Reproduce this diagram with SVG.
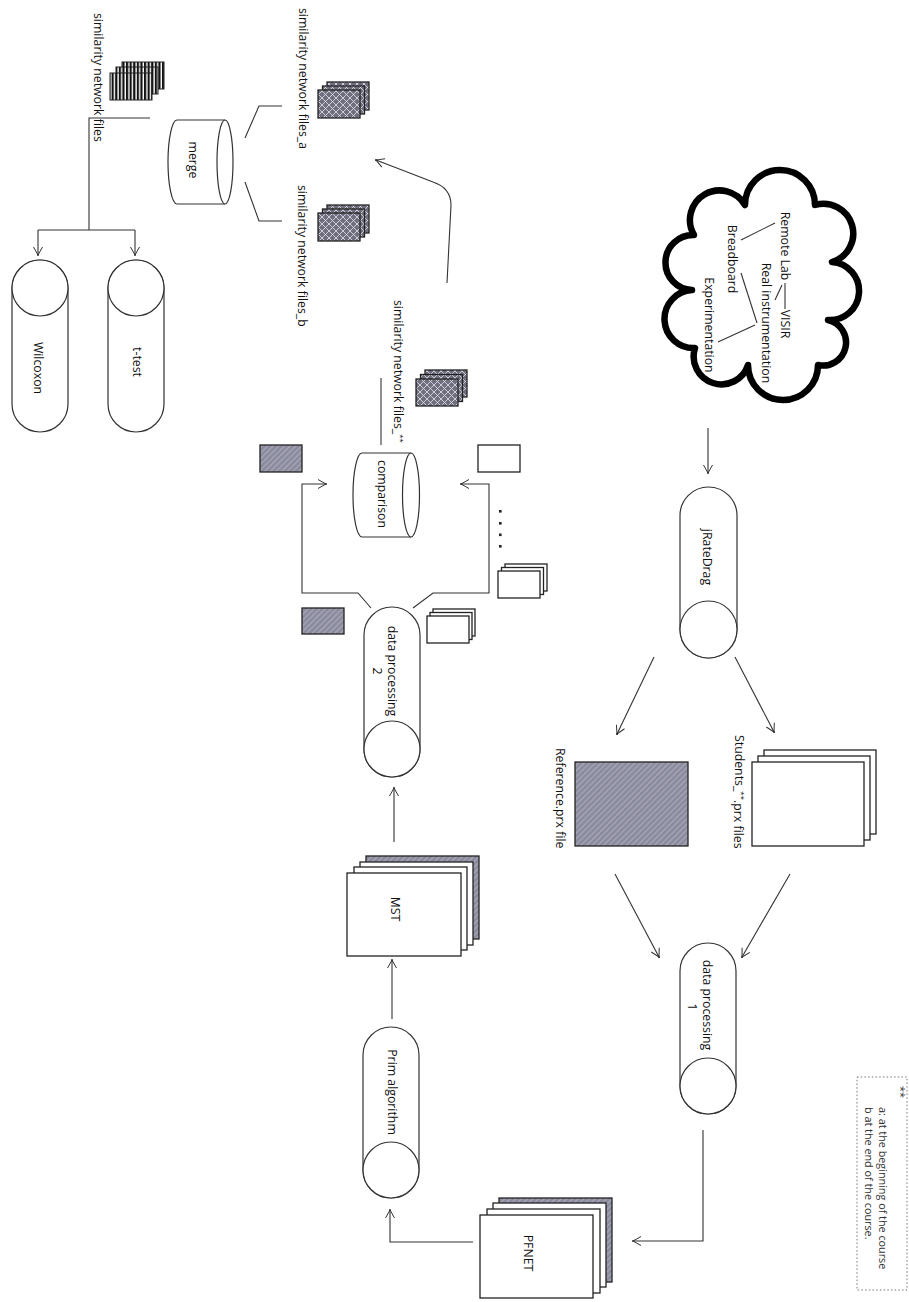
<svg xmlns="http://www.w3.org/2000/svg" width="909" height="1302" viewBox="0 0 909 1302">
<style>
.t{font-family:"Open Sans","Liberation Sans",sans-serif;font-size:12.3px;fill:#111}
.lg{font-family:"Open Sans","Liberation Sans",sans-serif;font-size:10.8px;fill:#333}
.ln{fill:none;stroke:#333;stroke-width:1.1}
.cy{fill:#fff;stroke:#333;stroke-width:1.2}
.wf{fill:#fff;stroke:#222;stroke-width:1.3}
.hf{fill:url(#hatch);stroke:#222;stroke-width:1.3}
.lf{fill:url(#lattice);stroke:#222;stroke-width:1.3}
.sf{fill:url(#stripe);stroke:#222;stroke-width:1}
</style>
<defs>
<pattern id="hatch" patternUnits="userSpaceOnUse" width="4" height="4" patternTransform="rotate(45)">
<rect width="4" height="4" fill="#8c8c9f"/>
<line x1="0" y1="0" x2="0" y2="4" stroke="#cacad6" stroke-width="1"/>
</pattern>
<pattern id="lattice" patternUnits="userSpaceOnUse" width="7" height="7">
<rect width="7" height="7" fill="#6f6f80"/>
<path d="M0,0 L7,7 M7,0 L0,7" stroke="#e4e4ec" stroke-width="0.8"/>
</pattern>
<pattern id="stripe" patternUnits="userSpaceOnUse" width="3.6" height="10">
<rect width="3.6" height="10" fill="#fff"/>
<rect width="2.2" height="10" fill="#111"/>
</pattern>
<marker id="ah" viewBox="-10 -6 12 12" refX="0" refY="0" markerWidth="12" markerHeight="12" markerUnits="userSpaceOnUse" orient="auto">
<path d="M-8,-4.5 L0,0 L-8,4.5" fill="none" stroke="#333" stroke-width="1"/>
<circle cx="0" cy="0" r="1" fill="#333"/>
</marker>
</defs>

<g id="connectors">
<line class="ln" x1="708" y1="428" x2="708" y2="473" marker-end="url(#ah)"/>
<line class="ln" x1="654" y1="657" x2="617" y2="734" marker-end="url(#ah)"/>
<line class="ln" x1="735" y1="657" x2="774" y2="732" marker-end="url(#ah)"/>
<line class="ln" x1="615" y1="874" x2="659" y2="957" marker-end="url(#ah)"/>
<line class="ln" x1="790" y1="874" x2="742" y2="957" marker-end="url(#ah)"/>
<polyline class="ln" points="703,1130 703,1241 633,1241" marker-end="url(#ah)"/>
<polyline class="ln" points="473,1242 390,1242 390,1210" marker-end="url(#ah)"/>
<line class="ln" x1="392" y1="1019" x2="392" y2="960" marker-end="url(#ah)"/>
<line class="ln" x1="394" y1="842" x2="394" y2="788" marker-end="url(#ah)"/>
<polyline class="ln" points="371,608 358,593 302,593 302,484 326,484" marker-end="url(#ah)"/>
<polyline class="ln" points="413,608 433,593 489,593 489,484 461,484" marker-end="url(#ah)"/>
<line class="ln" x1="381" y1="378" x2="381" y2="445"/>
<path class="ln" d="M447,283 L451,205 Q451,188 433,182 L376,160" marker-end="url(#ah)"/>
<polyline class="ln" points="245,138 259,106 282,106"/>
<polyline class="ln" points="245,182 259,221 282,221"/>
<polyline class="ln" points="150,118 89,118 89,230"/>
<line class="ln" x1="38" y1="230" x2="135" y2="230"/>
<line class="ln" x1="38" y1="230" x2="38" y2="255" marker-end="url(#ah)"/>
<line class="ln" x1="135" y1="230" x2="135" y2="255" marker-end="url(#ah)"/>
</g>

<g id="cloud">
<path d="M694,235 A1 1 0 0 1 745,205 A1 1 0 0 1 815,205 A1 1 0 0 1 832,262 A1 1 0 0 1 828,320 A1 1 0 0 1 818,365 A1 1 0 0 1 748,365 A1 1 0 0 1 695,348 A1 1 0 0 1 692,290 A1 1 0 0 1 694,235 Z" fill="#fff" stroke="#000" stroke-width="6.5" stroke-linejoin="round"/>
<line class="ln" x1="775" y1="223" x2="741" y2="240"/>
<line class="ln" x1="785" y1="283" x2="785" y2="309"/>
<line class="ln" x1="782" y1="285" x2="775" y2="300"/>
<line class="ln" x1="741" y1="273" x2="757" y2="323"/>
<line class="ln" x1="755" y1="325" x2="718" y2="342"/>
<text class="t" transform="translate(785,246) rotate(90)" text-anchor="middle" dominant-baseline="central">Remote Lab</text>
<text class="t" transform="translate(785,324) rotate(90)" text-anchor="middle" dominant-baseline="central">VISIR</text>
<text class="t" transform="translate(766,323) rotate(90)" text-anchor="middle" dominant-baseline="central">Real instrumentation</text>
<text class="t" transform="translate(732,259) rotate(90)" text-anchor="middle" dominant-baseline="central">Breadboard</text>
<text class="t" transform="translate(709,325) rotate(90)" text-anchor="middle" dominant-baseline="central">Experimentation</text>
</g>

<g id="jratedrag">
<path class="cy" d="M680,515.5 A28.5 28.5 0 0 1 737,515.5 L737,629.5 A28.5 28.5 0 0 1 680,629.5 Z"/>
<circle class="cy" cx="708.5" cy="629.5" r="28.5"/>
<text class="t" transform="translate(707,557) rotate(90)" text-anchor="middle" dominant-baseline="central">jRateDrag</text>
</g>

<g id="students">
<rect class="wf" x="764" y="750" width="112" height="84"/>
<rect class="wf" x="758" y="756" width="112" height="84"/>
<rect class="wf" x="752" y="762" width="112" height="84"/>
<text class="t" transform="translate(739,735) rotate(90)" dominant-baseline="central">Students_<tspan font-size="8" dy="-4">**</tspan><tspan dy="4">.prx files</tspan></text>
</g>

<g id="reference">
<rect class="hf" x="575" y="762" width="113" height="84"/>
<text class="t" transform="translate(560,748) rotate(90)" dominant-baseline="central">Reference.prx file</text>
</g>

<g id="dp1">
<path class="cy" d="M680,971 A28 28 0 0 1 736,971 L736,1086 A28 28 0 0 1 680,1086 Z"/>
<circle class="cy" cx="708" cy="1086" r="28"/>
<text class="t" transform="translate(707,1005) rotate(90)" text-anchor="middle" dominant-baseline="central">data processing</text>
<text class="t" transform="translate(692,1007) rotate(90)" text-anchor="middle" dominant-baseline="central">1</text>
</g>

<g id="pfnet">
<rect class="hf" x="499" y="1198" width="113" height="84"/>
<rect class="wf" x="493" y="1203" width="113" height="84"/>
<rect class="wf" x="487" y="1209" width="113" height="84"/>
<rect class="wf" x="480" y="1215" width="113" height="83"/>
<text class="t" transform="translate(528,1253) rotate(90)" text-anchor="middle" dominant-baseline="central">PFNET</text>
</g>

<g id="prim">
<path class="cy" d="M363,1055 A28 28 0 0 1 419,1055 L419,1170 A28 28 0 0 1 363,1170 Z"/>
<circle class="cy" cx="391" cy="1170" r="28"/>
<text class="t" transform="translate(392,1092) rotate(90)" text-anchor="middle" dominant-baseline="central">Prim algorithm</text>
</g>

<g id="mst">
<rect class="hf" x="366" y="856" width="113" height="83"/>
<rect class="wf" x="360" y="862" width="113" height="83"/>
<rect class="wf" x="354" y="867" width="113" height="83"/>
<rect class="wf" x="347" y="873" width="114" height="83"/>
<text class="t" transform="translate(395,909) rotate(90)" text-anchor="middle" dominant-baseline="central">MST</text>
</g>

<g id="dp2">
<path class="cy" d="M364,635 A28 28 0 0 1 420,635 L420,749 A28 28 0 0 1 364,749 Z"/>
<circle class="cy" cx="392" cy="749" r="28"/>
<text class="t" transform="translate(392,671) rotate(90)" text-anchor="middle" dominant-baseline="central">data processing</text>
<text class="t" transform="translate(377,671) rotate(90)" text-anchor="middle" dominant-baseline="central">2</text>
<rect class="hf" x="302" y="608" width="42" height="26"/>
<rect class="wf" x="433" y="609" width="42" height="27"/>
<rect class="wf" x="430" y="612.5" width="42" height="27"/>
<rect class="wf" x="427" y="616" width="42" height="27"/>
</g>

<g id="comparison">
<path class="cy" d="M411,453 L362,453 A9 42 0 0 0 362,537 L411,537"/>
<ellipse class="cy" cx="411" cy="495" rx="8.5" ry="42"/>
<text class="t" transform="translate(382,494) rotate(90)" text-anchor="middle" dominant-baseline="central">comparison</text>
<rect class="hf" x="260" y="445" width="42" height="27"/>
<rect class="wf" x="478" y="445" width="42" height="27"/>
<rect x="499" y="510" width="2.6" height="2.6" fill="#222"/>
<rect x="499" y="522" width="2.6" height="2.6" fill="#222"/>
<rect x="499" y="533.5" width="2.6" height="2.6" fill="#222"/>
<rect x="499" y="545" width="2.6" height="2.6" fill="#222"/>
<rect class="wf" x="505" y="564" width="42" height="27"/>
<rect class="wf" x="501.5" y="567.5" width="42" height="27"/>
<rect class="wf" x="498" y="571" width="42" height="27"/>
</g>

<g id="files-star">
<rect class="lf" x="425" y="370" width="42" height="27"/>
<rect class="lf" x="420.5" y="374.5" width="42" height="27"/>
<rect class="lf" x="416" y="379" width="42" height="27"/>
<text class="t" transform="translate(398,300) rotate(90)" dominant-baseline="central">similarity network files_<tspan font-size="8" dy="-4">**</tspan></text>
</g>

<g id="files-a">
<rect class="lf" x="327" y="82" width="42" height="28"/>
<rect class="lf" x="322.5" y="86" width="42" height="28"/>
<rect class="lf" x="318" y="90" width="42" height="28"/>
<text class="t" transform="translate(303,8) rotate(90)" dominant-baseline="central">similarity network files_a</text>
</g>

<g id="files-b">
<rect class="lf" x="327" y="205" width="42" height="28"/>
<rect class="lf" x="322.5" y="209" width="42" height="28"/>
<rect class="lf" x="318" y="213" width="42" height="28"/>
<text class="t" transform="translate(302,185) rotate(90)" dominant-baseline="central">similarity network files_b</text>
</g>

<g id="merge">
<path class="cy" d="M225,120 L177,120 A9 42 0 0 0 177,204 L225,204"/>
<ellipse class="cy" cx="225" cy="162" rx="8" ry="42"/>
<text class="t" transform="translate(193,160) rotate(90)" text-anchor="middle" dominant-baseline="central">merge</text>
</g>

<g id="files-merged">
<rect class="sf" x="122" y="62" width="42" height="27"/>
<rect class="sf" x="116" y="67" width="42" height="27"/>
<rect class="sf" x="110" y="73" width="42" height="27"/>
<text class="t" transform="translate(98,13) rotate(90)" dominant-baseline="central">similarity network files</text>
</g>

<g id="ttest">
<path class="cy" d="M108,288 A28 28 0 0 1 164,288 L164,404 A28 28 0 0 1 108,404 Z"/>
<circle class="cy" cx="136" cy="288" r="28"/>
<text class="t" transform="translate(137,362) rotate(90)" text-anchor="middle" dominant-baseline="central">t-test</text>
</g>

<g id="wilcoxon">
<path class="cy" d="M12,288 A28 28 0 0 1 68,288 L68,404 A28 28 0 0 1 12,404 Z"/>
<circle class="cy" cx="40" cy="288" r="28"/>
<text class="t" transform="translate(38,368) rotate(90)" text-anchor="middle" dominant-baseline="central">Wilcoxon</text>
</g>

<g id="legend">
<rect x="857" y="1077" width="50" height="213" fill="none" stroke="#777" stroke-width="1" stroke-dasharray="1.5 2.2"/>
<text class="lg" transform="translate(901,1086) rotate(90)" dominant-baseline="central">**</text>
<text class="lg" transform="translate(883,1107) rotate(90)" dominant-baseline="central">a: at the beginning of the course</text>
<text class="lg" transform="translate(869,1107) rotate(90)" dominant-baseline="central">b at the end of the course.</text>
</g>
</svg>
